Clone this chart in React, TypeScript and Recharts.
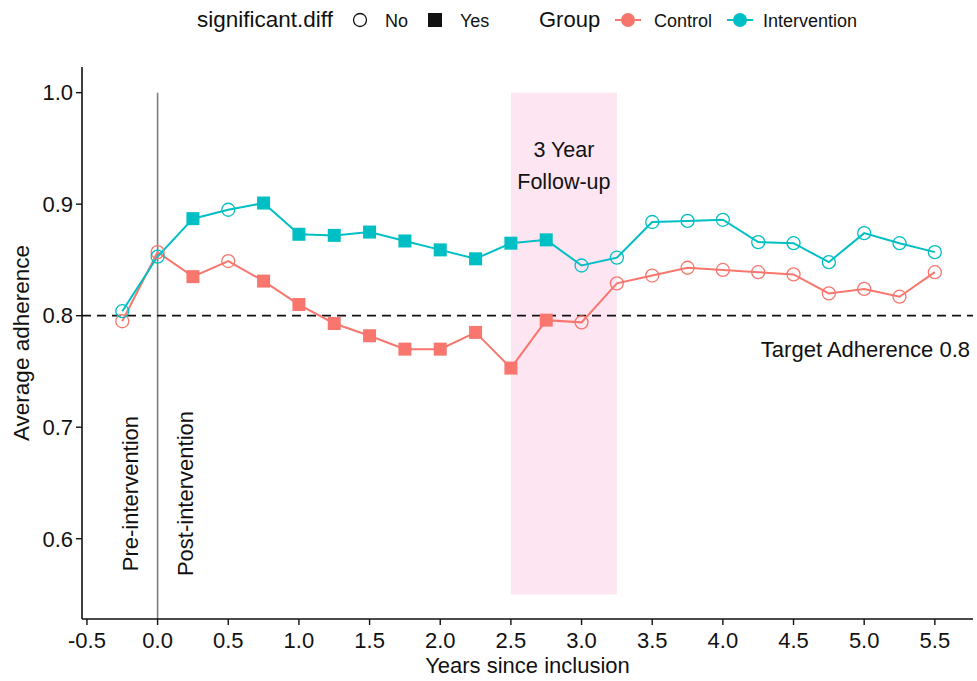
import React from 'react'
import { ComposedChart, Line, XAxis, YAxis, ReferenceLine, ReferenceArea, ReferenceDot } from 'recharts'

// years since inclusion (quarterly)
const years = [-0.25, 0, 0.25, 0.5, 0.75, 1.0, 1.25, 1.5, 1.75, 2.0, 2.25, 2.5, 2.75, 3.0, 3.25, 3.5, 3.75, 4.0, 4.25, 4.5, 4.75, 5.0, 5.25, 5.5]

const controlAdherence = [0.795, 0.857, 0.835, 0.849, 0.831, 0.810, 0.793, 0.782, 0.770, 0.770, 0.785, 0.753, 0.796, 0.794, 0.829, 0.836, 0.843, 0.841, 0.839, 0.837, 0.820, 0.824, 0.817, 0.839]
const interventionAdherence = [0.804, 0.853, 0.887, 0.895, 0.901, 0.873, 0.872, 0.875, 0.867, 0.859, 0.851, 0.865, 0.868, 0.845, 0.852, 0.884, 0.885, 0.886, 0.866, 0.865, 0.848, 0.874, 0.865, 0.857]

// significant.diff per time point
const significantDiff = ['No', 'No', 'Yes', 'No', 'Yes', 'Yes', 'Yes', 'Yes', 'Yes', 'Yes', 'Yes', 'Yes', 'Yes', 'No', 'No', 'No', 'No', 'No', 'No', 'No', 'No', 'No', 'No', 'No']

const xTicks = [-0.5, 0, 0.5, 1.0, 1.5, 2.0, 2.5, 3.0, 3.5, 4.0, 4.5, 5.0, 5.5]
const yTicks = [0.6, 0.7, 0.8, 0.9, 1.0]

const xDomain = [-0.535, 5.77]
const yDomain = [0.528, 1.023]

const targetAdherence = 0.8
const followUpStart = 2.5
const followUpEnd = 3.25

const chartData = years.map((year, i) => ({
  year,
  control: controlAdherence[i],
  intervention: interventionAdherence[i],
}))

const FONT = "'Liberation Sans', Arial, sans-serif"
const RED = '#F8766D'
const TEAL = '#00BFC4'
const INK = '#111'

function makeDot(color: string) {
  return (props: any) => {
    const { cx, cy, index } = props
    if (cx == null || cy == null) return <g key={index} />
    if (significantDiff[index] === 'Yes') {
      return <rect key={index} x={cx - 6.5} y={cy - 6.5} width={13} height={13} fill={color} />
    }
    return <circle key={index} cx={cx} cy={cy} r={6.5} fill="none" stroke={color} strokeWidth={1.3} />
  }
}

const FollowUpLabel = (props: any) => {
  const { x, y, width } = props.viewBox
  const cx = x + width / 2
  return (
    <g fontFamily={FONT} fontSize={21.5} fill={INK}>
      <text x={cx} y={y + 64} textAnchor="middle">3 Year</text>
      <text x={cx} y={y + 96} textAnchor="middle">Follow-up</text>
    </g>
  )
}

const TargetLabel = (props: any) => {
  const { x, y, width } = props.viewBox
  return (
    <text x={x + width - 3} y={y + 41} textAnchor="end" fontFamily={FONT} fontSize={22} fill={INK}>
      Target Adherence 0.8
    </text>
  )
}

const rotatedLabel = (text: string) => (props: any) => {
  const { x, y } = props.viewBox
  return (
    <text
      x={x}
      y={y}
      transform={`rotate(-90 ${x} ${y})`}
      textAnchor="middle"
      dominantBaseline="central"
      fontFamily={FONT}
      fontSize={22}
      fill={INK}
    >
      {text}
    </text>
  )
}

const XTitle = (props: any) => {
  const { x, y, width } = props.viewBox
  return (
    <text x={x + width / 2} y={y + 54} textAnchor="middle" fontFamily={FONT} fontSize={22} fill={INK}>
      Years since inclusion
    </text>
  )
}

const YTitle = (props: any) => {
  const { x, y, height } = props.viewBox
  const tx = x + 29
  const ty = y + height / 2
  return (
    <text x={tx} y={ty} transform={`rotate(-90 ${tx} ${ty})`} textAnchor="middle" fontFamily={FONT} fontSize={22.5} fill={INK}>
      Average adherence
    </text>
  )
}

function TopLegend() {
  return (
    <svg width={977} height={45} style={{ position: 'absolute', left: 0, top: 0 }} fontFamily={FONT} fill={INK}>
      <text x={197} y={27} fontSize={22.5}>significant.diff</text>
      <circle cx={360} cy={20} r={6.5} fill="none" stroke={INK} strokeWidth={1.3} />
      <text x={385} y={27} fontSize={18}>No</text>
      <rect x={428} y={13} width={14} height={14} fill={INK} />
      <text x={460} y={27} fontSize={18}>Yes</text>

      <text x={539} y={27} fontSize={22}>Group</text>
      <line x1={615} x2={641} y1={20} y2={20} stroke={RED} strokeWidth={2} />
      <circle cx={628} cy={20} r={7} fill={RED} />
      <text x={654} y={27} fontSize={18}>Control</text>
      <line x1={727} x2={753} y1={20} y2={20} stroke={TEAL} strokeWidth={2} />
      <circle cx={740} cy={20} r={7} fill={TEAL} />
      <text x={763} y={27} fontSize={18}>Intervention</text>
    </svg>
  )
}

export default function App() {
  const axisTick = { fill: INK, fontSize: 22, fontFamily: FONT }
  return (
    <div style={{ position: 'absolute', left: 0, top: 0, width: 977, height: 681, background: '#fff' }}>
      <ComposedChart
        width={977}
        height={681}
        data={chartData}
        margin={{ top: 67, right: 4, bottom: 32, left: 0 }}
        style={{ fontFamily: FONT }}
      >
        <ReferenceArea
          x1={followUpStart}
          x2={followUpEnd}
          y1={0.55}
          y2={1.0}
          fill="#FDE6F2"
          fillOpacity={1}
          stroke="none"
          label={FollowUpLabel}
        />
        <XAxis
          dataKey="year"
          type="number"
          domain={xDomain}
          ticks={xTicks}
          allowDataOverflow
          tickFormatter={(v: number) => v.toFixed(1)}
          tick={axisTick}
          tickSize={6}
          tickMargin={7}
          height={30}
          axisLine={{ stroke: INK, strokeWidth: 1.6 }}
          tickLine={{ stroke: INK, strokeWidth: 1.4 }}
          label={XTitle}
        />
        <YAxis
          type="number"
          domain={yDomain}
          ticks={yTicks}
          allowDataOverflow
          tickFormatter={(v: number) => v.toFixed(1)}
          tick={axisTick}
          tickSize={6}
          tickMargin={3}
          width={82}
          axisLine={{ stroke: INK, strokeWidth: 1.6 }}
          tickLine={{ stroke: INK, strokeWidth: 1.4 }}
          label={YTitle}
        />
        <ReferenceLine
          segment={[{ x: 0, y: yDomain[0] }, { x: 0, y: 1.0 }]}
          stroke="#7f7f7f"
          strokeWidth={1.6}
        />
        <ReferenceLine
          y={targetAdherence}
          stroke={INK}
          strokeWidth={1.8}
          strokeDasharray="9 6"
          label={TargetLabel}
        />
        <ReferenceDot x={-0.19} y={0.6405} r={0} fill="none" stroke="none" label={rotatedLabel('Pre-intervention')} />
        <ReferenceDot x={0.2} y={0.6405} r={0} fill="none" stroke="none" label={rotatedLabel('Post-intervention')} />
        <Line
          dataKey="control"
          type="linear"
          stroke={RED}
          strokeWidth={2}
          dot={makeDot(RED)}
          activeDot={false}
          isAnimationActive={false}
        />
        <Line
          dataKey="intervention"
          type="linear"
          stroke={TEAL}
          strokeWidth={2}
          dot={makeDot(TEAL)}
          activeDot={false}
          isAnimationActive={false}
        />
      </ComposedChart>
      <TopLegend />
    </div>
  )
}
